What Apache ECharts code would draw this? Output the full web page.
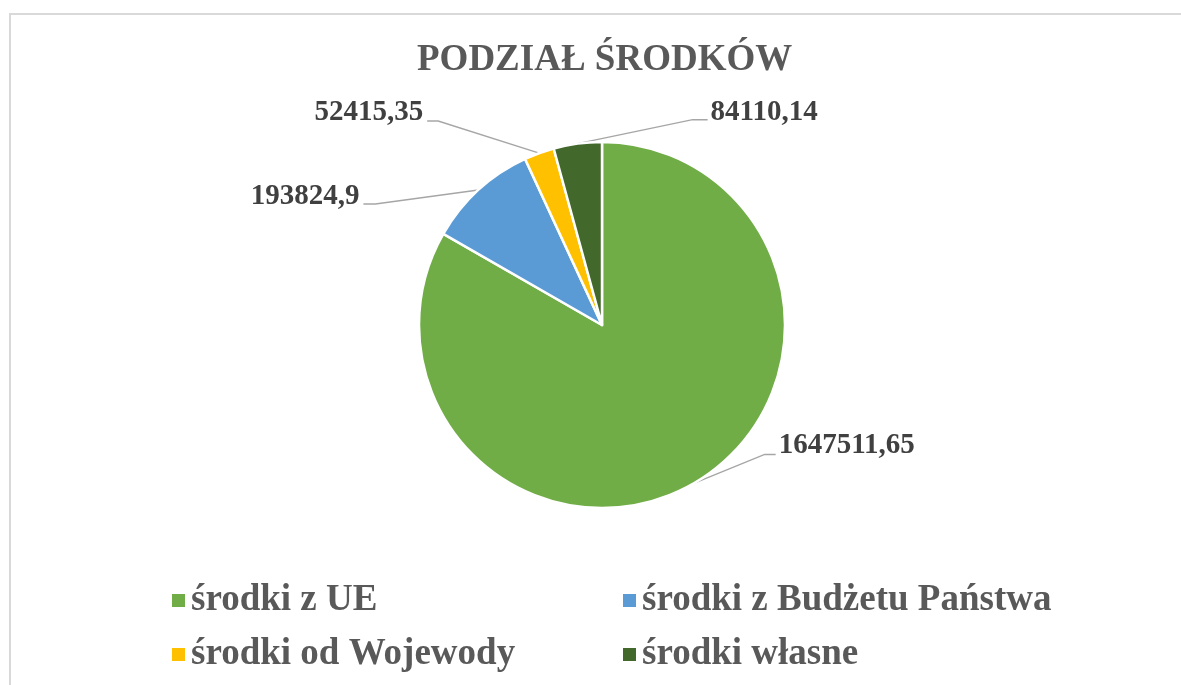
<!DOCTYPE html>
<html>
<head>
<meta charset="utf-8">
<script src="https://cdn.jsdelivr.net/npm/echarts@6/dist/echarts.min.js"></script>
<style>
  html, body { margin: 0; padding: 0; background: #fff; }
  #main { width: 1181px; height: 685px; }
</style>
</head>
<body>
<div id="main"></div>
<script>
// podział środków - dane
var categories = ['środki z UE', 'środki z Budżetu Państwa', 'środki od Wojewody', 'środki własne'];
var values = [1647511.65, 193824.9, 52415.35, 84110.14];
var colors = ['#70AD47', '#5B9BD5', '#FFC000', '#43682B'];

// where each leader line bends / ends, relative to the slice edge point
var leaders = [
  { elbow: [71, -29], end: [82, -29], align: 'left', off: [3, -9] },
  { elbow: [-103, 14], end: [-115, 14], align: 'right', off: [-4, -8] },
  { elbow: [-101, -32], end: [-112, -32], align: 'right', off: [-4, -9] },
  { elbow: [115, -24], end: [130, -24], align: 'left', off: [3, -7] }
];

var font = '"Liberation Serif", "Times New Roman", serif';

var chart = echarts.init(document.getElementById('main'));

var pieData = categories.map(function (name, i) {
  return { name: name, value: values[i], itemStyle: { color: colors[i] } };
});

var legendText = { fontFamily: font, fontSize: 37, fontWeight: 'bold', color: '#595959' };

chart.setOption({
  animation: false,
  title: {
    text: 'PODZIAŁ ŚRODKÓW',
    left: 412,
    top: 37,
    textStyle: { fontFamily: font, fontSize: 37, fontWeight: 'bold', color: '#595959' }
  },
  graphic: [{
    type: 'rect',
    shape: { x: 10, y: 14, width: 1200, height: 700 },
    style: { fill: 'none', stroke: '#d9d9d9', lineWidth: 2 },
    silent: true
  }],
  legend: [
    {
      data: [categories[0], categories[2]],
      orient: 'vertical',
      left: 165,
      top: 577,
      itemWidth: 15,
      itemHeight: 15,
      itemGap: 17,
      icon: 'rect',
      textStyle: legendText
    },
    {
      data: [categories[1], categories[3]],
      orient: 'vertical',
      left: 616,
      top: 577,
      itemWidth: 15,
      itemHeight: 15,
      itemGap: 17,
      icon: 'rect',
      textStyle: legendText
    }
  ],
  series: [{
    type: 'pie',
    center: [602, 325],
    radius: 183,
    startAngle: 90,
    clockwise: true,
    emphasis: { disabled: true },
    itemStyle: { borderColor: '#fff', borderWidth: 2.5 },
    label: {
      show: true,
      position: 'outside',
      formatter: function (p) { return String(p.value).replace('.', ','); },
      fontFamily: font,
      fontSize: 29,
      fontWeight: 'bold',
      color: '#404040'
    },
    labelLine: {
      show: true,
      length: 20,
      length2: 10,
      lineStyle: { color: '#a6a6a6', width: 1.5 }
    },
    labelLayout: function (p) {
      var s = leaders[p.dataIndex];
      var e = p.labelLinePoints[0];
      var ex = e[0] + s.end[0], ey = e[1] + s.end[1];
      return {
        x: ex + s.off[0],
        y: ey + s.off[1],
        align: s.align,
        verticalAlign: 'middle',
        labelLinePoints: [
          [e[0], e[1]],
          [e[0] + s.elbow[0], e[1] + s.elbow[1]],
          [ex, ey]
        ]
      };
    },
    data: pieData
  }]
});
</script>
</body>
</html>
